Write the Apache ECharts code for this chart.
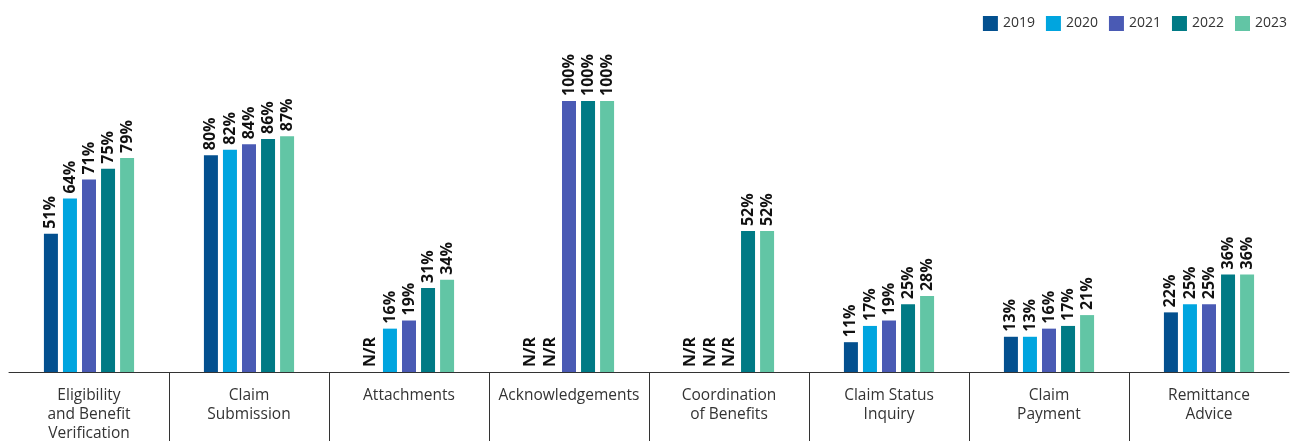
<!DOCTYPE html>
<html>
<head>
<meta charset="utf-8">
<script src="https://cdn.jsdelivr.net/npm/echarts@6/dist/echarts.min.js"></script>
<style>html,body{margin:0;padding:0;background:#fff;}#c{width:1299px;height:441px;}</style>
</head>
<body>
<div id="c"></div>
<script>
const categories = [
  'Eligibility\nand Benefit\nVerification',
  'Claim\nSubmission',
  'Attachments',
  'Acknowledgements',
  'Coordination\nof Benefits',
  'Claim Status\nInquiry',
  'Claim\nPayment',
  'Remittance\nAdvice'
];
const years = ['2019', '2020', '2021', '2022', '2023'];
const v2019 = [51, 80, 'N/R', 'N/R', 'N/R', 11, 13, 22];
const v2020 = [64, 82, 16, 'N/R', 'N/R', 17, 13, 25];
const v2021 = [71, 84, 19, 100, 'N/R', 19, 16, 25];
const v2022 = [75, 86, 31, 100, 52, 25, 17, 36];
const v2023 = [79, 87, 34, 100, 52, 28, 21, 36];
const colors = ['#03508F', '#00A5DF', '#4A5AB4', '#007A85', '#62C5A5'];

const FONT = 'Open Sans';
const seriesValues = [v2019, v2020, v2021, v2022, v2023];

function toData(arr) {
  return arr.map(v => v === 'N/R' ? { value: 0, nr: true } : { value: v });
}

const chart = echarts.init(document.getElementById('c'), null, { renderer: 'canvas' });
chart.setOption({
  animation: false,
  color: colors,
  legend: {
    data: years,
    right: 7,
    top: 11,
    icon: 'rect',
    itemWidth: 15,
    itemHeight: 15,
    itemGap: 11,
    textStyle: { fontFamily: FONT, fontSize: 14, color: '#333' }
  },
  grid: [
    { left: 9, right: 10, top: 101, bottom: 69, outerBoundsMode: 'none' },
    { left: 9, right: 10, top: 372, bottom: 0, outerBoundsMode: 'none' }
  ],
  xAxis: [
    {
      type: 'category',
      gridIndex: 0,
      data: categories,
      axisLine: { lineStyle: { color: '#333', width: 1 } },
      axisTick: { show: false },
      axisLabel: {
        margin: 14,
        interval: 0,
        fontFamily: FONT,
        fontSize: 15.5,
        lineHeight: 19,
        color: '#333',
        align: 'center',
        verticalAlign: 'top'
      }
    },
    {
      type: 'category',
      gridIndex: 1,
      data: categories,
      axisLine: { show: false },
      axisTick: { show: false },
      axisLabel: { show: false },
      splitLine: {
        show: true,
        showMinLine: false,
        showMaxLine: false,
        interval: 0,
        lineStyle: { color: '#333', width: 1 }
      }
    }
  ],
  yAxis: [
    { type: 'value', gridIndex: 0, min: 0, max: 100, show: false },
    { type: 'value', gridIndex: 1, min: 0, max: 1, show: false }
  ],
  series: years.map((y, i) => ({
    name: y,
    type: 'bar',
    xAxisIndex: 0,
    yAxisIndex: 0,
    barWidth: 14,
    barGap: '36%',
    data: toData(seriesValues[i]),
    itemStyle: { color: colors[i] },
    label: {
      show: true,
      position: 'top',
      rotate: 90,
      align: 'left',
      verticalAlign: 'middle',
      distance: 5,
      fontFamily: FONT,
      fontWeight: 'bold',
      fontSize: 16,
      color: '#111',
      formatter: p => p.data.nr ? 'N/R' : p.value + '%'
    }
  }))
});
</script>
</body>
</html>
